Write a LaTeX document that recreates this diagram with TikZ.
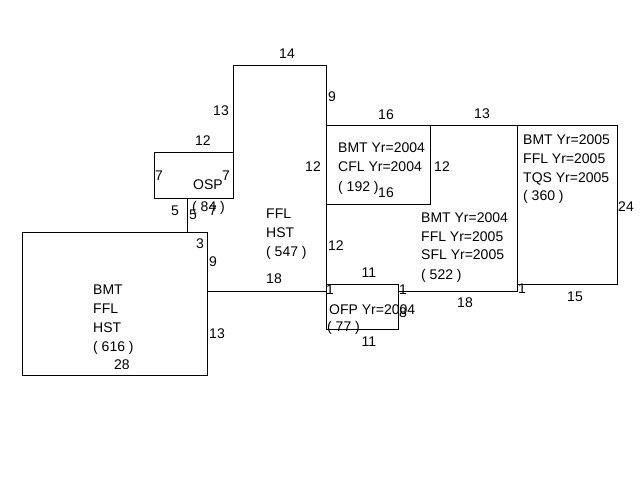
\documentclass[tikz,border=0pt]{standalone}
\usepackage{fontspec}
\setmainfont{Liberation Sans}
\begin{document}
\begin{tikzpicture}[x=1pt,y=-1pt,
  edge/.style={line width=1pt, line cap=rect},
  lbl/.style={font=\fontsize{14}{17}\selectfont, inner sep=0pt, anchor=base},
  lblw/.style={font=\fontsize{14}{17}\selectfont, inner sep=0pt, anchor=base west}]
\useasboundingbox[fill=white] (0,0) rectangle (640,480);
% outlines
\draw[edge] (233,152) -- (233,65) -- (326,65) -- (326,291);
\draw[edge] (154,152) rectangle (233,198);
\draw[edge] (187,198) -- (187,232);
\draw[edge] (22,232) rectangle (207,375);
\draw[edge] (207,291) -- (326,291);
\draw[edge] (326,125) -- (617,125) -- (617,284) -- (517,284);
\draw[edge] (326,204) -- (430,204) -- (430,125);
\draw[edge] (517,125) -- (517,291) -- (398,291);
\draw[edge] (326,284) rectangle (398,329);
% numbers
\node[lbl] (n14) at (287,58) {14};
\node[lbl] (n13a) at (221,115) {13};
\node[lbl] (n9a) at (332,101) {9};
\node[lbl] (n12a) at (203,145) {12};
\node[lblw] (n7a) at (155,180) {7};
\node[lbl] (n7b) at (226,180) {7};
\node[lblw] (osp) at (193,189) {OSP};
\node[lblw] (osp2) at (192,211) {( 84 )};
\node[lbl] (n5a) at (175,215) {5};
\node[lbl] (n5b) at (193,219) {5};
\node[lbl] (n7c) at (213,215) {7};
\node[lblw] (c1) at (266,218) {FFL};
\node[lblw] (c2) at (266,237) {HST};
\node[lblw] (c3) at (266,256) {( 547 )};
\node[lbl] (n3) at (200,248) {3};
\node[lbl] (n9b) at (213,266) {9};
\node[lbl] (n18a) at (274,283) {18};
\node[lbl] (n1a) at (330,294) {1};
\node[lblw] (n12b) at (328,250) {12};
\node[lbl] (n16a) at (386,119) {16};
\node[lbl] (n13b) at (482,118) {13};
\node[lbl] (n12c) at (313,171) {12};
\node[lbl] (n12d) at (442,171) {12};
\node[lbl] (n16b) at (386,197) {16};
\node[lblw] (d1) at (338,152) {BMT Yr=2004};
\node[lblw] (d2) at (338,171.5) {CFL Yr=2004};
\node[lblw] (d3) at (338,191) {( 192 )};
\node[lblw] (e1) at (421,222) {BMT Yr=2004};
\node[lblw] (e2) at (421,241) {FFL Yr=2005};
\node[lblw] (e3) at (421,259.5) {SFL Yr=2005};
\node[lblw] (e4) at (421,279) {( 522 )};
\node[lblw] (f1) at (523,144.5) {BMT Yr=2005};
\node[lblw] (f2) at (523,163.5) {FFL Yr=2005};
\node[lblw] (f3) at (523,182) {TQS Yr=2005};
\node[lblw] (f4) at (523,200) {( 360 )};
\node[lbl] (n24) at (626,211) {24};
\node[lbl] (n1b) at (522,293) {1};
\node[lbl] (n15) at (575,301) {15};
\node[lbl] (n11a) at (369,277) {11};
\node[lbl] (n1c) at (403,294) {1};
\node[lblw] (g1) at (329,314) {OFP Yr=2004};
\node[lbl] (n8) at (403,317) {8};
\node[lblw] (g2) at (327,331) {( 77 )};
\node[lbl] (n11b) at (369,346) {11};
\node[lbl] (n18b) at (465,307) {18};
\node[lblw] (h1) at (93,294) {BMT};
\node[lblw] (h2) at (93,313) {FFL};
\node[lblw] (h3) at (93,332) {HST};
\node[lblw] (h4) at (93,351) {( 616 )};
\node[lbl] (n28) at (122,369) {28};
\node[lbl] (n13c) at (217,338) {13};
\end{tikzpicture}
\end{document}
